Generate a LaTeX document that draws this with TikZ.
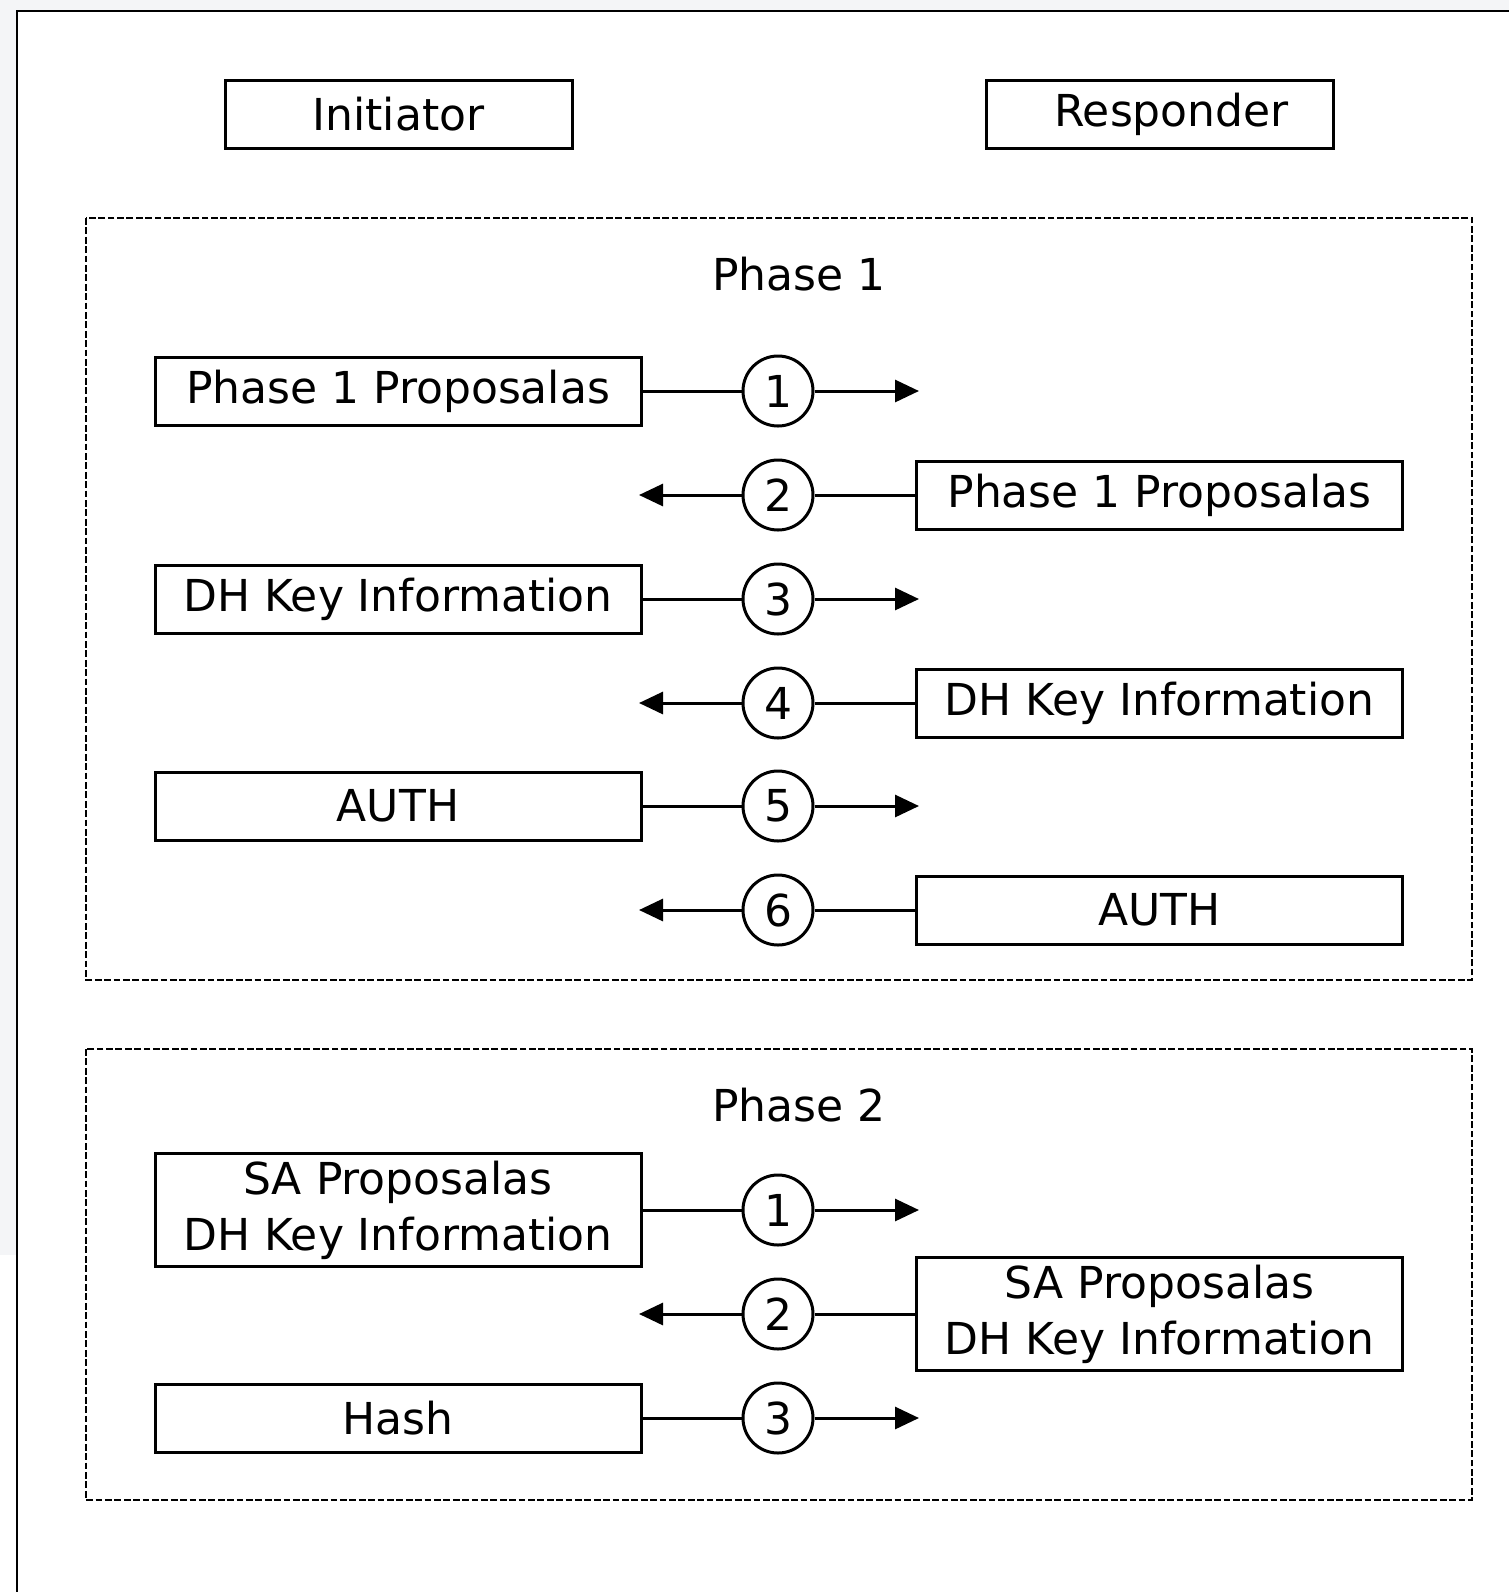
\documentclass[tikz,border=0pt]{standalone}
\usepackage{fontspec}
\setmainfont{DejaVu Sans}
\usetikzlibrary{arrows.meta}
\definecolor{shotgray}{RGB}{244,245,247}
\tikzstyle{empty-node}=[font=\fontsize{22}{28}\selectfont]
\tikzstyle{msg-node}=[draw=black,line width=1.5pt,minimum width=243pt,minimum height=34pt,inner sep=0pt,align=center,font=\fontsize{22}{28}\selectfont]
\tikzstyle{tall-node}=[msg-node,minimum height=56.5pt]
\tikzstyle{side-node}=[msg-node,minimum width=173.5pt]
\tikzstyle{num-node}=[fill=white,circle,draw=black,line width=1.5pt,minimum size=35pt,inner sep=0pt,font=\fontsize{22}{28}\selectfont]
\tikzstyle{phase-box}=[draw=black,line width=1.4pt,dash pattern=on 3.4pt off 1.3pt]
\tikzstyle{black-line}=[draw=black,line width=1.5pt]

\begin{document}
\begin{tikzpicture}[x=0.5pt,y=-0.5pt]
        \useasboundingbox (0,0) rectangle (1509,1592);
        % screenshot frame
        \fill[white] (0,0) rectangle (1509,1592);
        \fill[shotgray] (0,0) rectangle (1509,11);
        \fill[shotgray] (0,0) rectangle (17,1255);
        \draw[line width=1.4pt] (17,1592) -- (17,11) -- (1509,11);

        \begin{scope}
            \node (ini)[side-node] at (398.5,114) {Initiator};
            \node (res)[side-node] at (1159.5,114) {\hspace{12pt}Responder};

            % phase 1
            \draw[phase-box] (86,218) rectangle (1472,980);
            \node (p1title)[empty-node] at (799,274) {Phase 1};
            \node (l1)[msg-node] at (398,391) {Phase 1 Proposalas};
            \node (n1)[num-node] at (778,391) {1};
            \coordinate (t1) at (919,391);
            \node (r2)[msg-node] at (1159.5,495) {Phase 1 Proposalas};
            \node (n2)[num-node] at (778,495) {2};
            \coordinate (t2) at (639,495);
            \node (l3)[msg-node] at (398,599) {DH Key Information};
            \node (n3)[num-node] at (778,599) {3};
            \coordinate (t3) at (919,599);
            \node (r4)[msg-node] at (1159.5,703) {DH Key Information};
            \node (n4)[num-node] at (778,703) {4};
            \coordinate (t4) at (639,703);
            \node (l5)[msg-node] at (398,806) {AUTH};
            \node (n5)[num-node] at (778,806) {5};
            \coordinate (t5) at (919,806);
            \node (r6)[msg-node] at (1159.5,910) {AUTH};
            \node (n6)[num-node] at (778,910) {6};
            \coordinate (t6) at (639,910);

            % phase 2
            \draw[phase-box] (86,1049) rectangle (1472,1500);
            \node (p2title)[empty-node] at (799,1105) {Phase 2};
            \node (sl1)[tall-node] at (398,1210) {SA Proposalas\\DH Key Information};
            \node (sn1)[num-node] at (778,1210) {1};
            \coordinate (st1) at (919,1210);
            \node (sr2)[tall-node] at (1159.5,1314) {SA Proposalas\\DH Key Information};
            \node (sn2)[num-node] at (778,1314) {2};
            \coordinate (st2) at (639,1314);
            \node (sl3)[msg-node] at (398,1418) {Hash};
            \node (sn3)[num-node] at (778,1418) {3};
            \coordinate (st3) at (919,1418);
        \end{scope}

        \begin{scope}[>={Triangle[length=12pt,width=11pt]}, every edge/.style=black-line]
            \path (l1) edge (n1);
            \path [->] (n1) edge (t1);
            \path (r2) edge (n2);
            \path [->] (n2) edge (t2);
            \path (l3) edge (n3);
            \path [->] (n3) edge (t3);
            \path (r4) edge (n4);
            \path [->] (n4) edge (t4);
            \path (l5) edge (n5);
            \path [->] (n5) edge (t5);
            \path (r6) edge (n6);
            \path [->] (n6) edge (t6);
            \path (sl1) edge (sn1);
            \path [->] (sn1) edge (st1);
            \path (sr2) edge (sn2);
            \path [->] (sn2) edge (st2);
            \path (sl3) edge (sn3);
            \path [->] (sn3) edge (st3);
        \end{scope}

    \end{tikzpicture}
\end{document}
